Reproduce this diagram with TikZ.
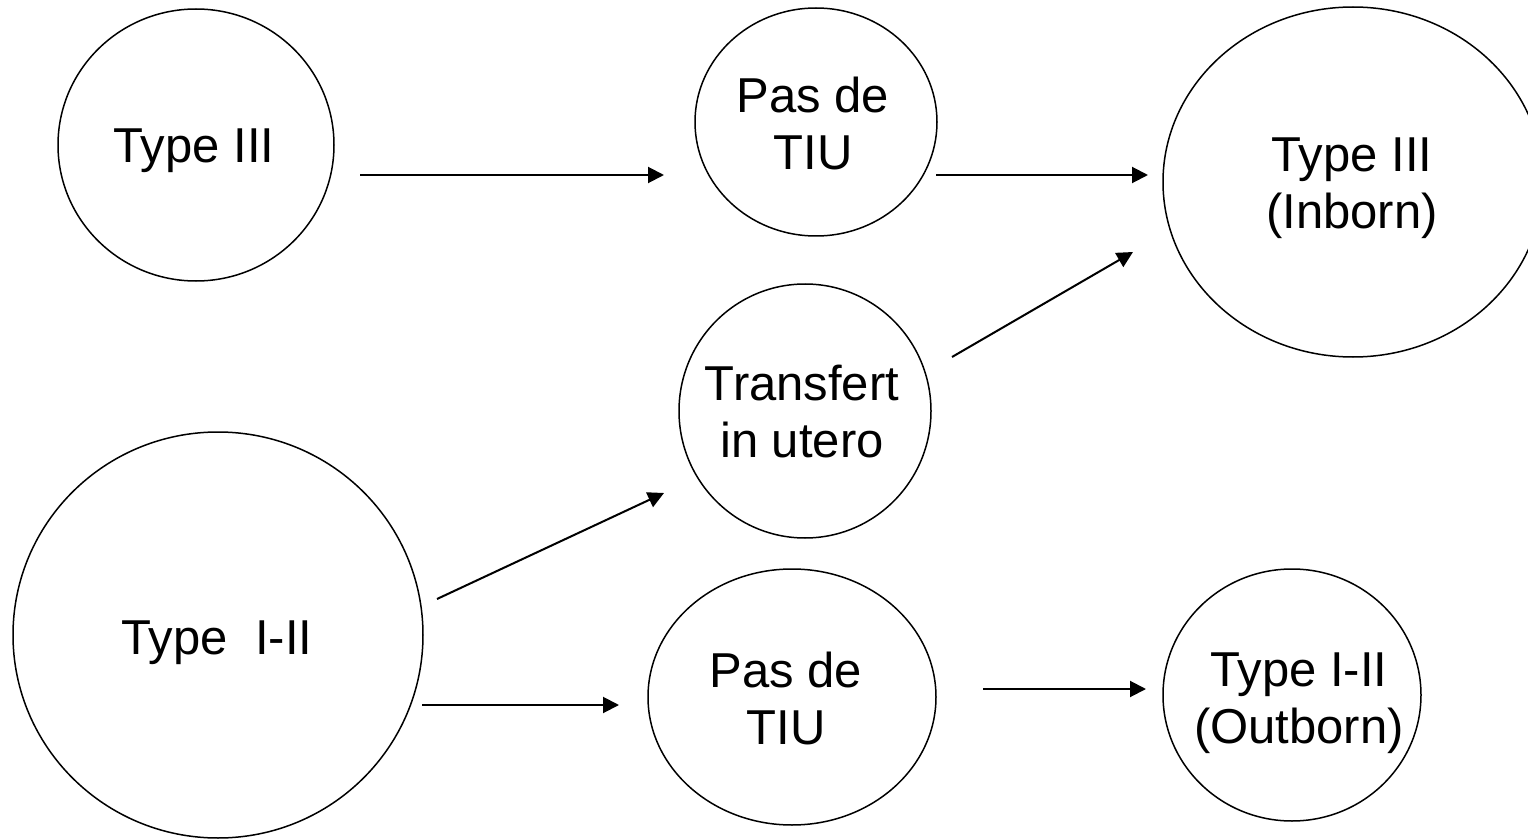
\documentclass[tikz,border=0pt]{standalone}
\usepackage{fontspec}
\setmainfont{Liberation Sans}
\usetikzlibrary{shapes.geometric,arrows.meta}
\begin{document}
\begin{tikzpicture}[x=0.5pt,y=-0.5pt,
  bubble/.style={ellipse, draw, line width=0.75pt, inner sep=0pt, outer sep=0pt},
  lbl/.style={font=\fontsize{24.5}{28.5}\selectfont, align=center, inner sep=0pt, text depth=0pt},
  flow/.style={-{Triangle[length=8pt,width=8pt]}, line width=1pt}]
\useasboundingbox (0,0) rectangle (1528,840);

% circles (minimum sizes are the semi-axes in px = diameters in pt)
\node[bubble, minimum width=138pt, minimum height=136pt] (t3)   at (196,145) {};
\node[bubble, minimum width=121pt, minimum height=114pt] (tiu1) at (816,122) {};
\node[bubble, minimum width=190pt, minimum height=175pt] (inb)  at (1353,182) {};
\node[bubble, minimum width=126pt, minimum height=127pt] (tr)   at (805,411) {};
\node[bubble, minimum width=205pt, minimum height=203pt] (t12)  at (218,635) {};
\node[bubble, minimum width=144pt, minimum height=128pt] (tiu2) at (792,697) {};
\node[bubble, minimum width=129pt, minimum height=126pt] (outb) at (1292,695) {};

% texts
\node[lbl] (t3-txt)   at (194,145.5) {Type III};
\node[lbl] (tiu1-txt) at (813,123)   {Pas de\\TIU};
\node[lbl] (inb-txt)  at (1352,183.5){Type III\\(Inborn)};
\node[lbl] (tr-txt)   at (802,411)   {Transfert\\in utero};
\node[lbl] (t12-txt)  at (217,637.5) {Type\ \ I-II};
\node[lbl] (tiu2-txt) at (786,698.5) {Pas de\\TIU};
\node[lbl] (outb-txt) at (1299,698)  {Type I-II\\(Outborn)};

% arrow ends
\coordinate (a1s) at (360,175);  \coordinate (a1e) at (664,175);
\coordinate (a2s) at (936,175);  \coordinate (a2e) at (1148,175);
\coordinate (a3s) at (952,357);  \coordinate (a3e) at (1133,252);
\coordinate (a4s) at (437,599);  \coordinate (a4e) at (664,493);
\coordinate (a5s) at (422,705);  \coordinate (a5e) at (619,705);
\coordinate (a6s) at (983,689);  \coordinate (a6e) at (1146,689);

\draw[flow] (a1s) -- (a1e);
\draw[flow] (a2s) -- (a2e);
\draw[flow] (a3s) -- (a3e);
\draw[flow] (a4s) -- (a4e);
\draw[flow] (a5s) -- (a5e);
\draw[flow] (a6s) -- (a6e);
\end{tikzpicture}
\end{document}
